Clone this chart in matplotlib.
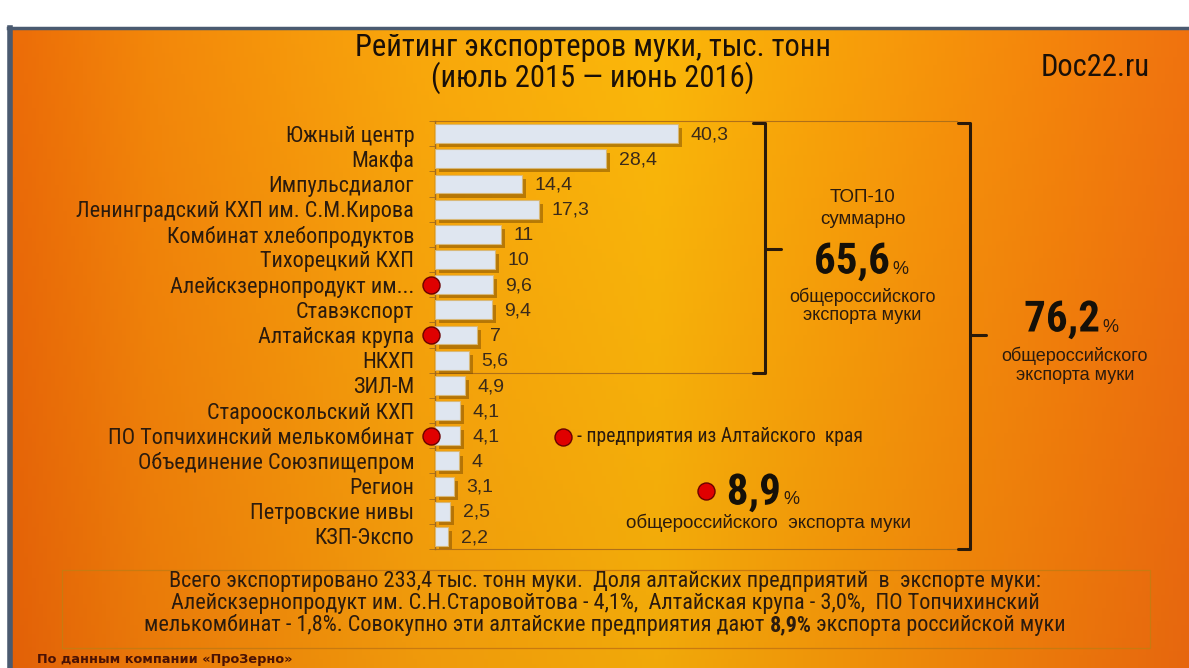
import numpy as np
import matplotlib
matplotlib.use("Agg")
import matplotlib.pyplot as plt
import matplotlib.patheffects as pe
from matplotlib import font_manager

# ---------------- data ----------------
companies = [
    "Южный центр", "Макфа", "Импульсдиалог", "Ленинградский КХП им. С.М.Кирова",
    "Комбинат хлебопродуктов", "Тихорецкий КХП", "Алейскзернопродукт им...",
    "Ставэкспорт", "Алтайская крупа", "НКХП", "ЗИЛ-М", "Старооскольский КХП",
    "ПО Топчихинский мелькомбинат", "Объединение Союзпищепром", "Регион",
    "Петровские нивы", "КЗП-Экспо",
]
values = [40.3, 28.4, 14.4, 17.3, 11, 10, 9.6, 9.4, 7, 5.6, 4.9, 4.1, 4.1, 4, 3.1, 2.5, 2.2]
altai_companies = ["Алейскзернопродукт им...", "Алтайская крупа", "ПО Топчихинский мелькомбинат"]
top10_share = "65,6"
total_share = "76,2"
altai_share = "8,9"

title_lines = ["Рейтинг экспортеров муки, тыс. тонн", "(июль 2015 — июнь 2016)"]
note_lines = [
    "Всего экспортировано 233,4 тыс. тонн муки.  Доля алтайских предприятий  в  экспорте муки:",
    "Алейскзернопродукт им. С.Н.Старовойтова - 4,1%,  Алтайская крупа - 3,0%,  ПО Топчихинский",
]
note_last = ["мелькомбинат - 1,8%. Совокупно эти алтайские предприятия дают ", "8,9%", " экспорта российской муки"]
source = "По данным компании «ПроЗерно»"

# ---------------- fonts ----------------
names = {f.name for f in font_manager.fontManager.ttflist}
def pick(*cands):
    for c in cands:
        if c in names:
            return [c, "DejaVu Sans"]
    return ["DejaVu Sans"]
NARROW = pick("Roboto Condensed", "PT Sans Narrow", "Liberation Sans Narrow")
TITLE = pick("Roboto Condensed", "PT Sans Narrow")
WIDE = pick("Liberation Sans", "Arimo")
TXT = "#2b1b0e"

W, H = 1189, 668
fig = plt.figure(figsize=(W / 100, H / 100), dpi=100)

bg = fig.add_axes([0, 0, 1, 1], zorder=-10)
bg.set_xlim(0, W)
bg.set_ylim(H, 0)
bg.axis("off")

xs = np.array([0.0, 0.12, 0.35, 0.55, 0.72, 0.9, 1.0])
cols = np.array([
    [236, 108, 8], [243, 135, 10], [249, 168, 12], [251, 184, 10],
    [248, 158, 10], [244, 130, 12], [240, 115, 15]]) / 255.0
gx = np.linspace(0, 1, 300)
grad = np.stack([np.interp(gx, xs, cols[:, k]) for k in range(3)], axis=-1)
gy = np.linspace(0, 1, 150)[:, None, None]
img = grad[None, :, :] * (1.0 - 0.04 * gy) + np.array([0.0, -0.03, 0.0]) * gy
img = np.clip(img, 0, 1)
bg.imshow(img, extent=(8, W, H, 27), aspect="auto", zorder=0)
bg.add_patch(plt.Rectangle((0, 0), W, 27, color="white", zorder=1))
bg.plot([8, W], [28, 28], color="#4a5a70", lw=2.5, zorder=2)
bg.plot([10, 10], [28, H], color="#4a5a70", lw=4, zorder=2)

# ---------------- main bar axes ----------------
ax_left, ax_right, ax_top, ax_bot = 435, 970, 121, 549
px_per_unit = (678 - 435) / 40.3
row0, row_step = 133.5, 25.3
ax = fig.add_axes([ax_left / W, 1 - ax_bot / H, (ax_right - ax_left) / W, (ax_bot - ax_top) / H])
ax.set_xlim(0, (ax_right - ax_left) / px_per_unit)
ax.set_ylim((ax_bot - row0) / row_step, -(row0 - ax_top) / row_step)
ax.patch.set_alpha(0)
for s in ["top", "right", "bottom"]:
    ax.spines[s].set_visible(False)
ax.spines["left"].set_color("#a06a20")
ax.spines["left"].set_linewidth(1.0)

ypos = np.arange(len(companies))
bars = ax.barh(ypos, values, height=0.75, color="#dfe6f0", edgecolor="#d8b878", linewidth=0.8, zorder=3)
for b in bars:
    b.set_path_effects([pe.SimplePatchShadow(offset=(3, -3), shadow_rgbFace="#7a4a00", alpha=0.5), pe.Normal()])

def fmt(v):
    return (str(int(v)) if float(v).is_integer() else f"{v}").replace(".", ",")

for y, v in zip(ypos, values):
    ax.text(v + 2.1, y + 0.05, fmt(v), va="center", ha="left", fontsize=14,
            family=WIDE, color="#3a2a1a", zorder=4)

ax.set_yticks(ypos)
ax.set_yticklabels(companies, family=NARROW, fontsize=16, color=TXT)
ax.tick_params(axis="y", which="major", length=0, pad=15)
ax.set_yticks(np.arange(-0.5, len(companies), 1), minor=True)
ax.tick_params(axis="y", which="minor", length=4, color="#a06a20")
ax.set_xticks([])

altai_idx = [companies.index(c) for c in altai_companies]
ax.scatter(np.full(len(altai_idx), -0.6), altai_idx, s=150, color="#e00000",
           edgecolor="#6a0000", linewidth=1.0, zorder=6, clip_on=False)

# ---------------- frame lines & brackets (pixel coords) ----------------
line_c = "#b07018"
bg.plot([435, 957], [121, 121], color=line_c, lw=0.8, zorder=3)
bg.plot([435, 765], [373, 373], color=line_c, lw=0.8, zorder=3)
bg.plot([435, 968], [549, 549], color=line_c, lw=0.8, zorder=3)

def bracket(x, y0, y1, ymid, serif=12, tick=16):
    kw = dict(color="#2a1a0a", lw=2.2, zorder=5, solid_capstyle="round", solid_joinstyle="round")
    bg.plot([x - serif, x, x, x - serif], [y0, y0, y1, y1], **kw)
    bg.plot([x, x + tick], [ymid, ymid], **kw)

bracket(765, 123, 373, 249)
bracket(970, 123, 549, 335)

# ---------------- texts ----------------
for i, t in enumerate(title_lines):
    bg.text(593, 47 + i * 31, t, ha="center", va="center", family=TITLE, fontsize=22,
            color="#1a1008")
bg.text(1095, 68, "Doc22.ru", ha="center", va="center", family=TITLE, fontsize=22,
        color="#1a1008")

bg.text(863, 198, "ТОП-10", ha="center", va="center", family=WIDE, fontsize=13.5, color=TXT)
bg.text(863, 220, "суммарно", ha="center", va="center", family=WIDE, fontsize=13.5, color=TXT)

def big_pct(xr, y, num, size=31):
    t = bg.text(xr, y, num, ha="right", va="center", family=TITLE, fontsize=size,
                fontweight="bold", color="#151008", zorder=6)
    t.set_path_effects([pe.SimpleLineShadow(offset=(2, -2), shadow_color="#6a4000", alpha=0.6), pe.Normal()])
    bg.text(xr + 2, y + 7, "%", ha="left", va="center", family=WIDE, fontsize=13, color=TXT, zorder=6)

big_pct(890, 262, top10_share)
bg.text(862, 297, "общероссийского", ha="center", va="center", family=WIDE, fontsize=13, color=TXT)
bg.text(862, 316, "экспорта муки", ha="center", va="center", family=WIDE, fontsize=13, color=TXT)

big_pct(1100, 320, total_share)
bg.text(1075, 356, "общероссийского", ha="center", va="center", family=WIDE, fontsize=13, color=TXT)
bg.text(1075, 376, "экспорта муки", ha="center", va="center", family=WIDE, fontsize=13, color=TXT)

bg.scatter([563], [437], s=150, color="#e00000", edgecolor="#6a0000", linewidth=1.0, zorder=6)
bg.text(577, 437, "- предприятия из Алтайского  края", ha="left", va="center", family=NARROW,
        fontsize=14.2, color=TXT)

bg.scatter([706], [491], s=150, color="#e00000", edgecolor="#6a0000", linewidth=1.0, zorder=6)
big_pct(781, 493, altai_share)
bg.text(769, 523, "общероссийского  экспорта муки", ha="center", va="center", family=WIDE,
        fontsize=13.5, color=TXT)

# bottom note box
bg.add_patch(plt.Rectangle((62, 570), 1088, 78, fill=False, edgecolor="#c97a10", lw=0.9, zorder=3))
NOTE_FS = 16
for i, t in enumerate(note_lines):
    bg.text(605, 582 + i * 21.5, t, ha="center", va="center", family=NARROW, fontsize=NOTE_FS, color=TXT)

fig.canvas.draw()
r = fig.canvas.get_renderer()
parts = []
for k, s in enumerate(note_last):
    parts.append(bg.text(0, 625, s, ha="left", va="center", family=NARROW, fontsize=NOTE_FS, color=TXT,
                         fontweight="bold" if k == 1 else "normal"))
widths = [p.get_window_extent(r).width for p in parts]
x = 605 - sum(widths) / 2
for p, w in zip(parts, widths):
    p.set_x(x)
    x += w

bg.text(37, 660, source, ha="left", va="center", family=["DejaVu Sans"], fontsize=9.3, color="#4a1205",
        fontweight="bold")

fig.savefig("out.png", dpi=100)
